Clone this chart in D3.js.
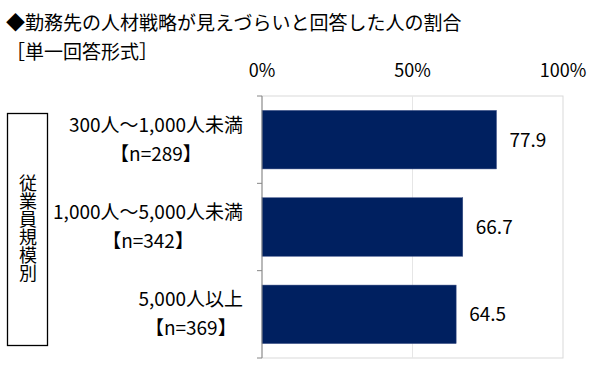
<!DOCTYPE html>
<html lang="ja">
<head>
<meta charset="utf-8">
<script src="https://cdn.jsdelivr.net/npm/d3@7"></script>
<style>
  body { margin: 0; background: #fff; }
  text { font-family: "Noto Sans CJK JP", "Noto Sans", sans-serif; fill: #000; }
</style>
</head>
<body>
<script>
// data
var categories = ["300人～1,000人未満", "1,000人～5,000人未満", "5,000人以上"];
var sampleSizes = ["【n=289】", "【n=342】", "【n=369】"];
var values = [77.9, 66.7, 64.5];
var tickValues = [0, 50, 100];

var width = 600, height = 365;
var plotLeft = 262, plotRight = 563, plotTop = 96, plotBottom = 358;

var svg = d3.select("body").append("svg")
    .attr("width", width)
    .attr("height", height);

var x = d3.scaleLinear().domain([0, 100]).range([plotLeft, plotRight]);
var y = d3.scaleBand().domain(categories).range([plotTop, plotBottom]).paddingInner(0.33).paddingOuter(0.165);

// title
svg.append("text")
   .attr("x", 6).attr("y", 30)
   .style("font-size", "19px")
   .text("◆勤務先の人材戦略が見えづらいと回答した人の割合");

svg.append("text")
   .attr("x", 6).attr("y", 59)
   .style("font-size", "19px")
   .text("［単一回答形式］");

// plot frame + gridline
svg.append("rect")
   .attr("x", plotLeft).attr("y", plotTop)
   .attr("width", plotRight - plotLeft).attr("height", plotBottom - plotTop)
   .attr("fill", "none").attr("stroke", "#d9d9d9").attr("stroke-width", 1);

svg.selectAll(".grid")
   .data([50])
   .enter().append("line")
   .attr("x1", function (d) { return x(d); })
   .attr("x2", function (d) { return x(d); })
   .attr("y1", plotTop).attr("y2", plotBottom)
   .attr("stroke", "#e6e6e6");

// top axis labels
svg.selectAll(".tick-label")
   .data(tickValues)
   .enter().append("text")
   .attr("x", function (d) { return x(d); })
   .attr("y", 77)
   .attr("text-anchor", "middle")
   .style("font-size", "18px")
   .text(function (d) { return d + "%"; });

// bars
svg.selectAll(".bar")
   .data(values)
   .enter().append("rect")
   .attr("x", x(0))
   .attr("y", function (d, i) { return y(categories[i]); })
   .attr("width", function (d) { return x(d) - x(0); })
   .attr("height", y.bandwidth())
   .attr("fill", "#002060")
   .attr("stroke", "#3a4f86").attr("stroke-width", 0.5);

// value labels
svg.selectAll(".val")
   .data(values)
   .enter().append("text")
   .attr("x", function (d) { return x(d) + 13; })
   .attr("y", function (d, i) { return y(categories[i]) + y.bandwidth() / 2 + 7; })
   .style("font-size", "19px")
   .text(function (d) { return d.toFixed(1); });

// left axis with ticks at band edges
var edges = d3.range(categories.length + 1).map(function (i) { return plotTop + i * (plotBottom - plotTop) / categories.length; });
svg.append("line")
   .attr("x1", plotLeft).attr("x2", plotLeft)
   .attr("y1", plotTop).attr("y2", plotBottom)
   .attr("stroke", "#868686");
svg.selectAll(".ytick")
   .data(edges)
   .enter().append("line")
   .attr("x1", plotLeft - 5).attr("x2", plotLeft)
   .attr("y1", function (d) { return d; })
   .attr("y2", function (d) { return d; })
   .attr("stroke", "#868686");

// category labels: two centered lines, block right-aligned at 243
categories.forEach(function (c, i) {
    var cy = y(c) + y.bandwidth() / 2;
    var g = svg.append("g");
    var t1 = g.append("text").attr("y", cy - 8).attr("text-anchor", "middle")
              .style("font-size", "19px").text(c);
    var t2 = g.append("text").attr("y", cy + 21).attr("text-anchor", "middle")
              .style("font-size", "19px").text(sampleSizes[i]);
    var w = Math.max(t1.node().getComputedTextLength(), t2.node().getComputedTextLength());
    var cx = 243 - w / 2;
    t1.attr("x", cx);
    t2.attr("x", cx);
});

// vertical group label box
svg.append("rect")
   .attr("x", 7.5).attr("y", 113.5)
   .attr("width", 40).attr("height", 232)
   .attr("fill", "none").attr("stroke", "#000").attr("stroke-width", 1.3);

svg.append("text")
   .attr("x", 28).attr("y", 228)
   .attr("text-anchor", "middle")
   .style("writing-mode", "vertical-rl")
   .style("font-size", "18px")
   .text("従業員規模別");
</script>
</body>
</html>
